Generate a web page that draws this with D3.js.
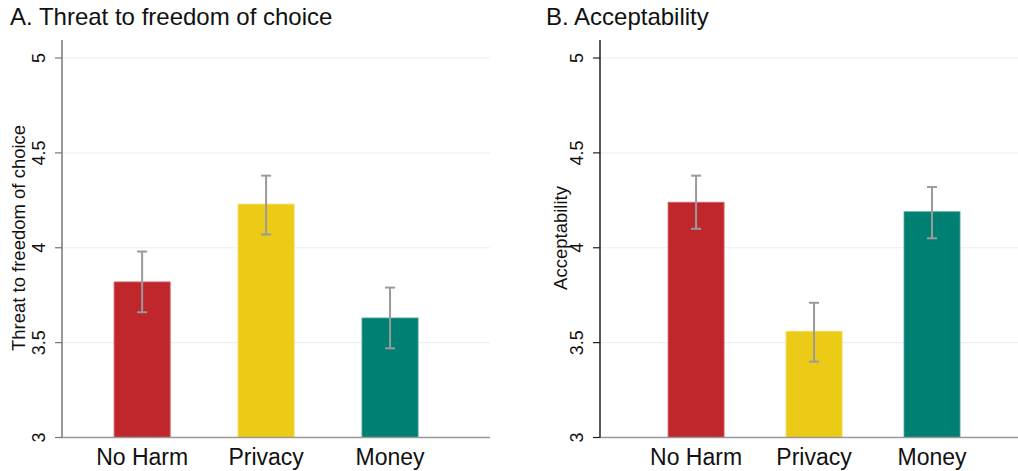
<!DOCTYPE html>
<html>
<head>
<meta charset="utf-8">
<script src="https://cdn.jsdelivr.net/npm/d3@7"></script>
<style>
  body { margin: 0; background: #fff; }
  svg { display: block; font-family: "Liberation Sans", Arial, sans-serif; }
</style>
</head>
<body>
<svg width="1018" height="471"></svg>
<script>
var categories = ["No Harm", "Privacy", "Money"]
var colors = ["#c0272d", "#ebcb16", "#008072"]
var edgeColors = ["#d9686c", "#f3dd66", "#5aa89f"]
var yTicks = [3, 3.5, 4, 4.5, 5]

// panel A: threat to freedom of choice
var threatMean = [3.82, 4.23, 3.63]
var threatLow = [3.66, 4.07, 3.47]
var threatHigh = [3.98, 4.38, 3.79]

// panel B: acceptability
var acceptMean = [4.24, 3.56, 4.19]
var acceptLow = [4.10, 3.40, 4.05]
var acceptHigh = [4.38, 3.71, 4.32]

var svg = d3.select("svg")

var y = d3.scaleLinear()
    .domain([3, 5])
    .range([437.5, 58])

var panels = [
    {title: "A. Threat to freedom of choice", ytitle: "Threat to freedom of choice",
     mean: threatMean, low: threatLow, high: threatHigh,
     x0: 62, x1: 490, titleX: 10, padOuter: 0.5, align: 0.42, inner: 0.547,
     axisColor: "#777", ytitleX: 25},
    {title: "B. Acceptability", ytitle: "Acceptability",
     mean: acceptMean, low: acceptLow, high: acceptHigh,
     x0: 600, x1: 1018, titleX: 546, padOuter: 0.534, align: 0.54, inner: 0.525,
     axisColor: "#222", ytitleX: 567}
]

panels.forEach(function(p) {
    var x = d3.scaleBand()
        .domain(categories)
        .range([p.x0, p.x1])
        .paddingInner(p.inner)
        .paddingOuter(p.padOuter)
        .align(p.align)

    var g = svg.append("g")

    // grid
    g.append("g")
        .selectAll("line")
        .data(yTicks.slice(1))
        .enter().append("line")
        .attr("x1", p.x0)
        .attr("x2", p.x1)
        .attr("y1", d => y(d))
        .attr("y2", d => y(d))
        .attr("stroke", "#eaf0f2")
        .attr("stroke-width", 1.2)

    // bars
    g.append("g")
        .selectAll("rect")
        .data(p.mean)
        .enter().append("rect")
        .attr("x", (d, i) => x(categories[i]))
        .attr("width", x.bandwidth())
        .attr("y", d => y(d))
        .attr("height", d => y(3) - y(d))
        .attr("fill", (d, i) => colors[i])
        .attr("stroke", (d, i) => edgeColors[i])
        .attr("stroke-width", 0.8)

    // error bars
    var eb = g.append("g")
        .attr("stroke", "#9a9a9a")
        .attr("stroke-width", 2)
        .selectAll("g")
        .data(p.mean)
        .enter().append("g")
        .attr("transform", (d, i) => `translate(${x(categories[i]) + x.bandwidth() / 2},0)`)
    eb.append("line")
        .attr("y1", (d, i) => y(p.low[i]))
        .attr("y2", (d, i) => y(p.high[i]))
    eb.append("line")
        .attr("x1", -5).attr("x2", 5)
        .attr("y1", (d, i) => y(p.low[i]))
        .attr("y2", (d, i) => y(p.low[i]))
    eb.append("line")
        .attr("x1", -5).attr("x2", 5)
        .attr("y1", (d, i) => y(p.high[i]))
        .attr("y2", (d, i) => y(p.high[i]))

    // x axis
    g.append("line")
        .attr("x1", p.x0).attr("x2", p.x1)
        .attr("y1", y(3)).attr("y2", y(3))
        .attr("stroke", "#999")
        .attr("stroke-width", 1.5)
    g.append("g")
        .selectAll("text")
        .data(categories)
        .enter().append("text")
        .attr("x", d => x(d) + x.bandwidth() / 2)
        .attr("y", 465)
        .attr("text-anchor", "middle")
        .attr("font-size", 23)
        .attr("fill", "#111")
        .text(d => d)

    // y axis
    var yAxis = g.append("g")
        .attr("transform", `translate(${p.x0},0)`)
    yAxis.append("line")
        .attr("y1", 40).attr("y2", y(3))
        .attr("stroke", p.axisColor)
        .attr("stroke-width", 1.5)
    var tick = yAxis.selectAll("g.tick")
        .data(yTicks)
        .enter().append("g")
        .attr("class", "tick")
        .attr("transform", d => `translate(0,${y(d)})`)
    tick.append("line")
        .attr("x1", -7).attr("x2", 0)
        .attr("stroke", p.axisColor)
        .attr("stroke-width", 1.2)
    tick.append("text")
        .attr("transform", "translate(-17,0) rotate(-90)")
        .attr("text-anchor", "middle")
        .attr("font-size", 18)
        .attr("fill", "#111")
        .text(d => d3.format("~g")(d))

    g.append("text")
        .attr("transform", `translate(${p.ytitleX},238) rotate(-90)`)
        .attr("text-anchor", "middle")
        .attr("font-size", 18.5)
        .attr("fill", "#111")
        .text(p.ytitle)

    g.append("text")
        .attr("x", p.titleX)
        .attr("y", 25)
        .attr("font-size", 24)
        .attr("fill", "#111")
        .text(p.title)
})
</script>
</body>
</html>
